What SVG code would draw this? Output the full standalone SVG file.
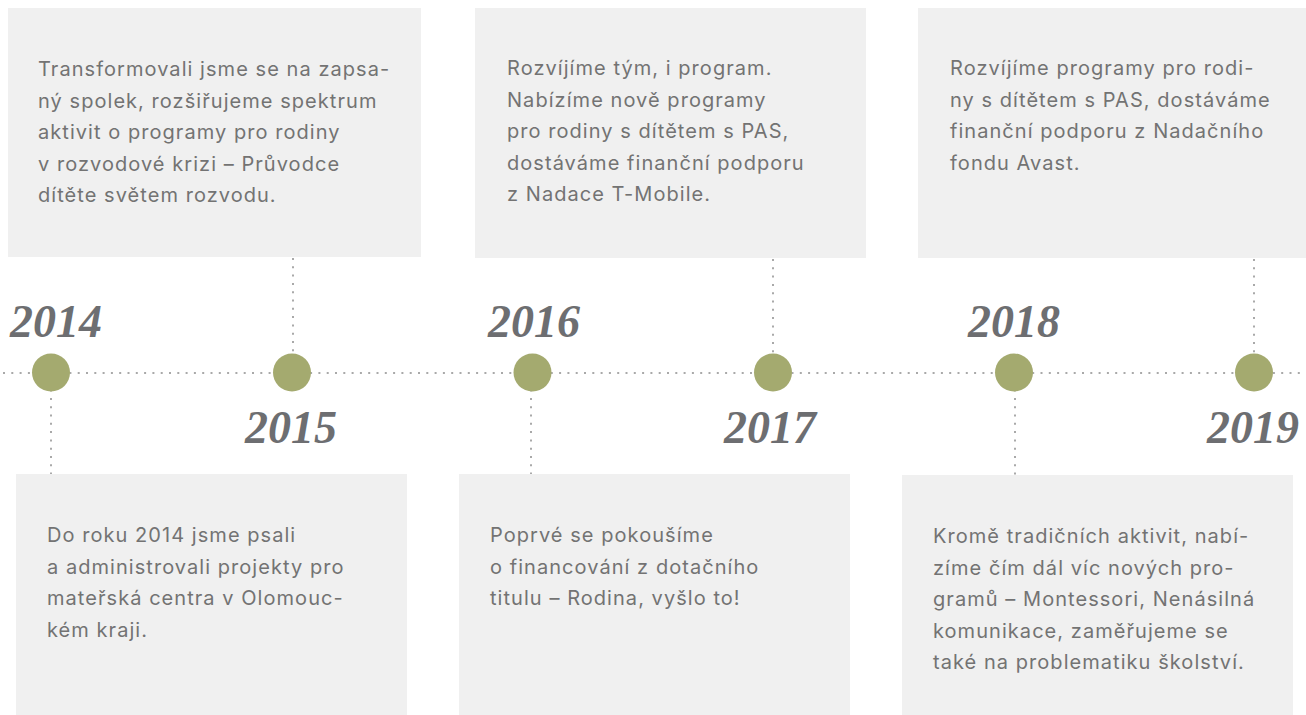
<svg xmlns="http://www.w3.org/2000/svg" width="1306" height="715" viewBox="0 0 1306 715">
<style>
.box{fill:#f0f0f0}
.txt{font-family:Inter,"Open Sans","Noto Sans",sans-serif;font-size:20px;letter-spacing:1.05px;fill:#737373}
.yr{font-family:"Liberation Serif","DejaVu Serif",serif;font-style:italic;font-weight:bold;font-size:46px;fill:#6d6e71}
.dot{fill:#a4aa6f}
.con{stroke:#a9a9a9;stroke-width:2;stroke-dasharray:2 6.3;fill:none}
</style>
<rect width="1306" height="715" fill="#ffffff"/>
<g id="connectors">
<line class="con" x1="3" y1="373" x2="1300" y2="373"/>
<line class="con" x1="51" y1="373" x2="51" y2="474"/>
<line class="con" x1="293" y1="258" x2="293" y2="373"/>
<line class="con" x1="531" y1="373" x2="531" y2="474"/>
<line class="con" x1="773" y1="259" x2="773" y2="373"/>
<line class="con" x1="1015" y1="373" x2="1015" y2="475"/>
<line class="con" x1="1254" y1="259" x2="1254" y2="373"/>
</g>
<g id="node-2014">
<circle class="dot" cx="51" cy="372.5" r="19"/>
<text class="yr" x="10" y="337">2014</text>
<rect class="box" x="16" y="474" width="391" height="241"/>
<text class="txt"><tspan x="47" y="542">Do roku 2014 jsme psali</tspan><tspan x="47" y="573.5">a administrovali projekty pro</tspan><tspan x="47" y="605">mateřská centra v Olomouc-</tspan><tspan x="47" y="637">kém kraji.</tspan></text>
</g>
<g id="node-2015">
<circle class="dot" cx="292" cy="372.5" r="19"/>
<text class="yr" x="245" y="443">2015</text>
<rect class="box" x="8" y="8" width="413" height="249"/>
<text class="txt"><tspan x="38" y="76">Transformovali jsme se na zapsa-</tspan><tspan x="38" y="107.5">ný spolek, rozšiřujeme spektrum</tspan><tspan x="38" y="139">aktivit o programy pro rodiny</tspan><tspan x="38" y="170.5">v rozvodové krizi – Průvodce</tspan><tspan x="38" y="202">dítěte světem rozvodu.</tspan></text>
</g>
<g id="node-2016">
<circle class="dot" cx="532.5" cy="372.5" r="19"/>
<text class="yr" x="488" y="337">2016</text>
<rect class="box" x="459" y="474" width="391" height="241"/>
<text class="txt"><tspan x="490" y="542">Poprvé se pokoušíme</tspan><tspan x="490" y="573.5">o financování z dotačního</tspan><tspan x="490" y="605">titulu – Rodina, vyšlo to!</tspan></text>
</g>
<g id="node-2017">
<circle class="dot" cx="773" cy="372.5" r="19"/>
<text class="yr" x="724" y="443">2017</text>
<rect class="box" x="475" y="8" width="391" height="250"/>
<text class="txt"><tspan x="507" y="75">Rozvíjíme tým, i program.</tspan><tspan x="507" y="106.5">Nabízíme nově programy</tspan><tspan x="507" y="138">pro rodiny s dítětem s PAS,</tspan><tspan x="507" y="169.5">dostáváme finanční podporu</tspan><tspan x="507" y="201">z Nadace T-Mobile.</tspan></text>
</g>
<g id="node-2018">
<circle class="dot" cx="1014" cy="372.5" r="19"/>
<text class="yr" x="968" y="337">2018</text>
<rect class="box" x="902" y="475" width="391" height="240"/>
<text class="txt"><tspan x="933" y="543">Kromě tradičních aktivit, nabí-</tspan><tspan x="933" y="574.5">zíme čím dál víc nových pro-</tspan><tspan x="933" y="606">gramů – Montessori, Nenásilná</tspan><tspan x="933" y="637.5">komunikace, zaměřujeme se</tspan><tspan x="933" y="669">také na problematiku školství.</tspan></text>
</g>
<g id="node-2019">
<circle class="dot" cx="1254" cy="372.5" r="19"/>
<text class="yr" x="1207" y="443">2019</text>
<rect class="box" x="918" y="8" width="388" height="250"/>
<text class="txt"><tspan x="950" y="75">Rozvíjíme programy pro rodi-</tspan><tspan x="950" y="106.5">ny s dítětem s PAS, dostáváme</tspan><tspan x="950" y="138">finanční podporu z Nadačního</tspan><tspan x="950" y="169.5">fondu Avast.</tspan></text>
</g>
</svg>
